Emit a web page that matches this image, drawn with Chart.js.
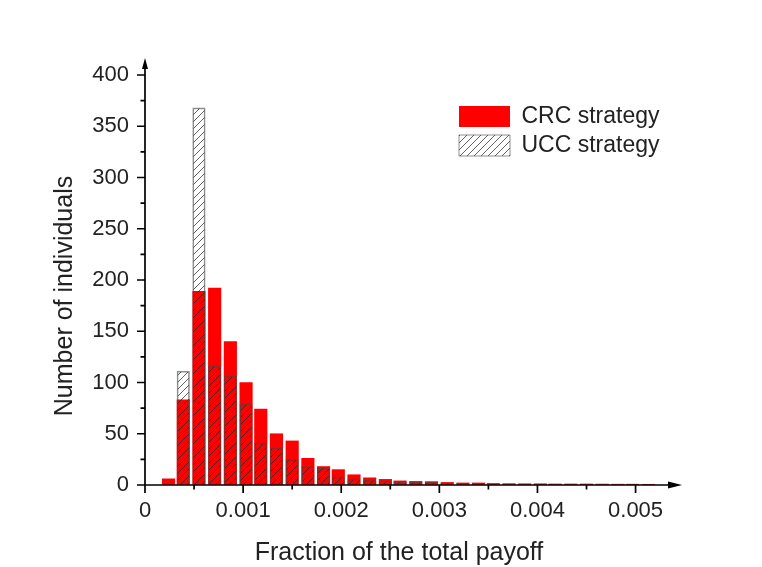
<!DOCTYPE html>
<html><head><meta charset="utf-8">
<script src="https://cdn.jsdelivr.net/npm/chart.js@4.4.1/dist/chart.umd.min.js"></script>
<style>html,body{margin:0;padding:0;background:#fff;}</style>
</head><body>
<canvas id="c" width="762" height="567"></canvas>
<script>
// ---- data ----
const binCenters = [0.00024, 0.00039, 0.00055, 0.00071, 0.00087, 0.00103, 0.00118, 0.00134,
  0.00150, 0.00166, 0.00182, 0.00197, 0.00213, 0.00229, 0.00245, 0.00260, 0.00276, 0.00292,
  0.00308, 0.00324, 0.00340, 0.00355, 0.00371, 0.00387, 0.00403, 0.00418, 0.00434, 0.00450,
  0.00466, 0.00482, 0.00497, 0.00513];
const crcCounts = [6, 83, 189, 192, 140, 100, 74, 50, 43, 26, 18, 15, 10, 7, 5.5, 4, 3.5, 3.3,
  2.5, 2, 2, 1.5, 1.3, 1.2, 1.2, 1, 1, 1, 0.9, 0.8, 0.8, 0.7];
const uccCounts = [0, 111, 368, 116, 106, 79, 41, 36, 25, 18, 17, 8, 6, 5, 4, 3, 3, 2.5,
  2, 1.5, 1.5, 1, 0.8, 0.7, 0.7, 0.6, 0.6, 0.5, 0.5, 0.5, 0.4, 0.4];
const seriesNames = ['CRC strategy', 'UCC strategy'];
const xTickValues = [0, 0.0005, 0.001, 0.0015, 0.002, 0.0025, 0.003, 0.0035, 0.004, 0.0045, 0.005];
const xTickLabels = ['0', '', '0.001', '', '0.002', '', '0.003', '', '0.004', '', '0.005'];
const yTickValues = [0, 25, 50, 75, 100, 125, 150, 175, 200, 225, 250, 275, 300, 325, 350, 375, 400];
const yTickLabels = ['0', '', '50', '', '100', '', '150', '', '200', '', '250', '', '300', '', '350', '', '400'];
const xTitle = 'Fraction of the total payoff';
const yTitle = 'Number of individuals';

const FONT = "'Liberation Sans', Arial, sans-serif";
const canvas = document.getElementById('c');
const ctx = canvas.getContext('2d');

function makeHatch() {
  const s = 7;
  const c = document.createElement('canvas');
  c.width = s; c.height = s;
  const g = c.getContext('2d');
  g.strokeStyle = 'rgba(40,40,40,0.72)';
  g.lineWidth = 1;
  g.beginPath();
  g.moveTo(-1, s + 1); g.lineTo(s + 1, -1);
  g.moveTo(-1, 1); g.lineTo(1, -1);
  g.moveTo(s - 1, s + 1); g.lineTo(s + 1, s - 1);
  g.stroke();
  return ctx.createPattern(c, 'repeat');
}
const hatch = makeHatch();

const axisPlugin = {
  id: 'axisDecor',
  beforeDraw(chart) {
    const lg = chart.legend;
    if (lg) { lg.left = 453; lg.top = 99; }
  },
  afterDraw(chart) {
    const c = chart.ctx;
    const xs = chart.scales.x, ys = chart.scales.y;
    const x0 = xs.getPixelForValue(0), y0 = ys.getPixelForValue(0);
    const xTip = xs.right + 17, yTip = ys.top - 17;
    c.save();
    c.strokeStyle = '#000'; c.fillStyle = '#000'; c.lineWidth = 1.7;
    c.beginPath();
    c.moveTo(x0, y0); c.lineTo(xTip - 6, y0);
    c.moveTo(x0, y0); c.lineTo(x0, yTip + 5);
    xTickValues.forEach((v, i) => {
      const p = xs.getPixelForValue(v);
      const len = xTickLabels[i] ? 8 : 4.5;
      c.moveTo(p, y0); c.lineTo(p, y0 + len);
    });
    yTickValues.forEach((v, i) => {
      const p = ys.getPixelForValue(v);
      const len = yTickLabels[i] ? 8 : 4.5;
      c.moveTo(x0, p); c.lineTo(x0 - len, p);
    });
    c.stroke();
    c.beginPath();
    c.moveTo(xTip, y0); c.lineTo(xTip - 14, y0 - 3.5); c.lineTo(xTip - 14, y0 + 3.5); c.closePath();
    c.fill();
    c.beginPath();
    c.moveTo(x0, yTip); c.lineTo(x0 - 3, yTip + 11); c.lineTo(x0 + 3, yTip + 11); c.closePath();
    c.fill();
    c.fillStyle = '#222';
    c.font = '25px ' + FONT;
    c.textAlign = 'center'; c.textBaseline = 'alphabetic';
    c.fillText(xTitle, (xs.left + xs.right) / 2 - 6, 560);
    c.translate(71.5, (ys.top + ys.bottom) / 2 + 16);
    c.rotate(-Math.PI / 2);
    c.fillText(yTitle, 0, 0);
    c.restore();
  }
};

new Chart(ctx, {
  type: 'bar',
  data: {
    datasets: [
      { label: seriesNames[0], data: binCenters.map((x, i) => ({ x: x, y: crcCounts[i] })),
        backgroundColor: '#ff0000', borderWidth: 0, order: 2 },
      { label: seriesNames[1], data: binCenters.map((x, i) => ({ x: x, y: uccCounts[i] })),
        backgroundColor: hatch, borderColor: 'rgba(70,70,70,0.6)', borderWidth: 1, order: 1 }
    ]
  },
  options: {
    responsive: false,
    animation: false,
    layout: { padding: { left: 0, top: 75, right: 97, bottom: 0 } },
    datasets: { bar: { grouped: false, barThickness: 12.5 } },
    scales: {
      x: {
        type: 'linear', min: 0, max: 0.0053, offset: false,
        afterBuildTicks: s => { s.ticks = xTickValues.map(v => ({ value: v })); },
        afterFit: s => { s.height = 82; },
        ticks: { autoSkip: false, maxRotation: 0, padding: 5, color: '#222',
          font: { family: FONT, size: 22 }, callback: (v, i) => xTickLabels[i] },
        grid: { display: true, offset: false, drawOnChartArea: false, drawTicks: true, tickLength: 8,
          color: 'rgba(0,0,0,0)', tickColor: 'rgba(0,0,0,0)' },
        border: { display: false }
      },
      y: {
        type: 'linear', min: 0, max: 400,
        afterBuildTicks: s => { s.ticks = yTickValues.map(v => ({ value: v })); },
        afterFit: s => { s.width = 145; },
        ticks: { autoSkip: false, padding: 8, color: '#222',
          font: { family: FONT, size: 22 }, callback: (v, i) => yTickLabels[i] },
        grid: { display: true, drawOnChartArea: false, drawTicks: true, tickLength: 8,
          color: 'rgba(0,0,0,0)', tickColor: 'rgba(0,0,0,0)' },
        border: { display: false }
      }
    },
    plugins: {
      legend: {
        position: 'chartArea', align: 'start',
        labels: { font: { family: FONT, size: 23 }, color: '#222', boxWidth: 51, boxHeight: 21, padding: 6,
          sort: (a, b) => a.datasetIndex - b.datasetIndex }
      },
      tooltip: { enabled: false }
    }
  },
  plugins: [axisPlugin]
});
</script>
</body></html>
